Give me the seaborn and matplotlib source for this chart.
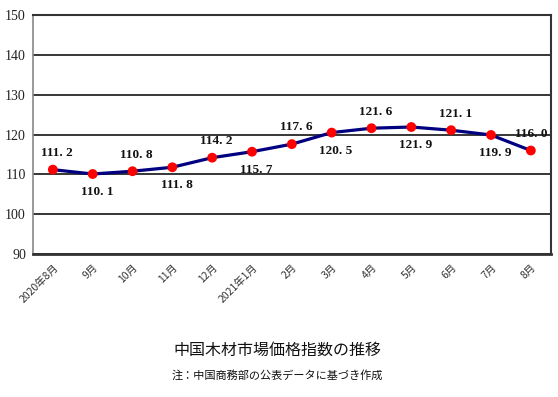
import pandas as pd
import numpy as np
import matplotlib
matplotlib.use("Agg")
import matplotlib.pyplot as plt
import seaborn as sns

# データ
months = ["2020年8月", "9月", "10月", "11月", "12月", "2021年1月", "2月",
          "3月", "4月", "5月", "6月", "7月", "8月"]
index_values = [111.2, 110.1, 110.8, 111.8, 114.2, 115.7, 117.6,
                120.5, 121.6, 121.9, 121.1, 119.9, 116.0]
label_side = ["up", "down", "up", "down", "up", "down", "up",
              "down", "up", "down", "up", "down", "up"]
y_ticks = [90, 100, 110, 120, 130, 140, 150]

df = pd.DataFrame({"month": months, "value": index_values})

sns.set_style("white")
plt.rcParams["font.family"] = ["Noto Sans CJK JP", "DejaVu Sans"]

fig = plt.figure(figsize=(5.58, 3.97), dpi=100)
ax = fig.add_axes([0.059, 0.360, 0.928, 0.602])

# 折れ線とマーカー
sns.lineplot(data=df, x="month", y="value", color="#000080", linewidth=2.3,
             sort=False, ax=ax, zorder=3)
sns.scatterplot(data=df, x="month", y="value", color="red", s=50,
                edgecolor="none", ax=ax, zorder=4)

# データラベル
for i, (v, side) in enumerate(zip(index_values, label_side)):
    txt = f"{v:.1f}".replace(".", ". ")
    dy = 12 if side == "up" else -13
    dx = 0 if i == len(months) - 1 else 3
    ax.annotate(txt, (i, v), xytext=(dx, dy), textcoords="offset points",
                ha="center", va="center", fontsize=9.5, fontweight="bold",
                family=["Liberation Serif"], color="#111111", zorder=5)

ax.set_ylim(90, 150)
ax.set_xlim(-0.5, len(months) - 0.5)
ax.set_yticks(y_ticks)
ax.set_yticklabels([str(t) for t in y_ticks], family=["Liberation Serif"],
                   fontsize=10, color="#222222")
ax.yaxis.grid(True, color="black", linewidth=1.1)
ax.set_axisbelow(True)
ax.tick_params(axis="y", length=0, pad=5)

ax.set_xticks(range(len(months)))
ax.set_xticklabels(months, rotation=45, ha="right", rotation_mode="anchor",
                   fontsize=7.5, color="#333333")
ax.tick_params(axis="x", which="major", length=0, pad=6)
ax.set_xticks(np.arange(0.5, len(months) - 1, 1.0), minor=True)
ax.tick_params(axis="x", which="minor", direction="in", length=4,
               width=1.2, color="#333333")

ax.set_xlabel("")
ax.set_ylabel("")

for side in ["left", "right", "top", "bottom"]:
    ax.spines[side].set_visible(True)
ax.spines["left"].set_color("#888888")
ax.spines["left"].set_linewidth(1.2)
ax.spines["bottom"].set_color("#333333")
ax.spines["bottom"].set_linewidth(2)
ax.spines["right"].set_color("#333333")
ax.spines["right"].set_linewidth(1.5)
ax.spines["top"].set_color("#333333")
ax.spines["top"].set_linewidth(1.5)

fig.text(0.497, 0.118, "中国木材市場価格指数の推移", ha="center", va="center",
         fontsize=11.5, color="#111111")
fig.text(0.497, 0.055, "注：中国商務部の公表データに基づき作成", ha="center",
         va="center", fontsize=8, color="#111111")

fig.savefig("out.png", dpi=100)
